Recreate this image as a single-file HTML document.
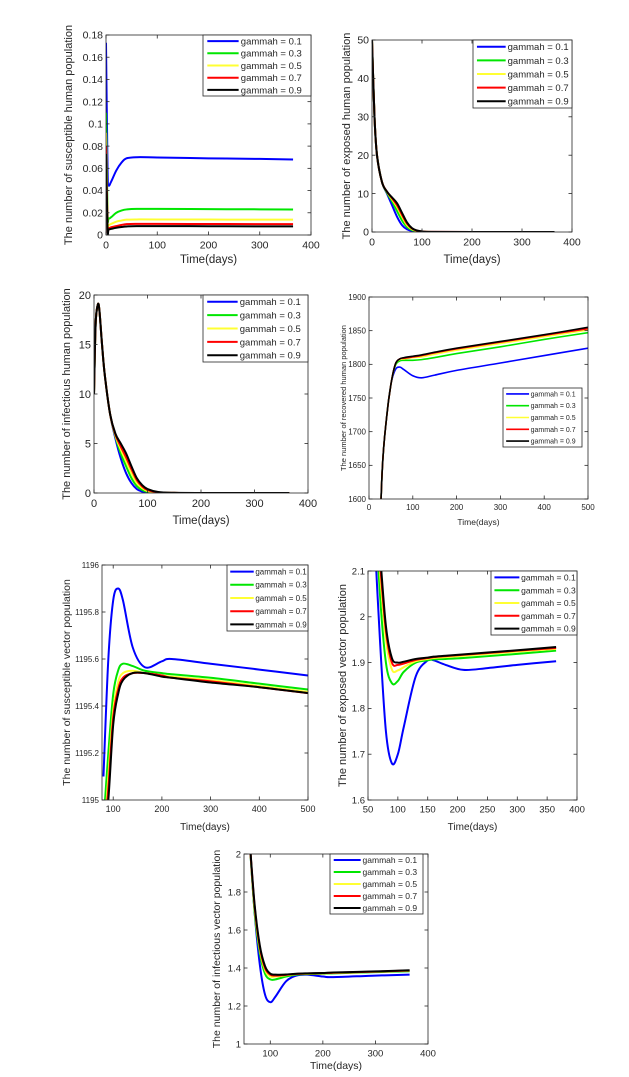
<!DOCTYPE html>
<html><head><meta charset="utf-8"><style>
html,body{margin:0;padding:0;background:#fff;}
svg{display:block;font-family:"Liberation Sans",Arial,sans-serif;}
</style></head><body>
<svg id="fig" width="629" height="1077" viewBox="0 0 629 1077" xmlns="http://www.w3.org/2000/svg"></svg>
<script>
const seriesNames = ["gammah = 0.1","gammah = 0.3","gammah = 0.5","gammah = 0.7","gammah = 0.9"];
const seriesColors = ["#0000ff","#00e600","#ffff33","#ff0000","#000000"];

// Panel 1: susceptible human
const p1T = [0,3,5,10,20,30,40,60,100,200,300,365];
const p1Blue = [0.173,0.06,0.045,0.048,0.058,0.065,0.069,0.070,0.0698,0.069,0.0685,0.068];
const p1Green = [0.11,0.02,0.015,0.016,0.020,0.022,0.023,0.0235,0.0235,0.0233,0.0231,0.023];
const p1Yellow = [0.092,0.012,0.009,0.010,0.012,0.013,0.0138,0.014,0.014,0.0139,0.0138,0.0138];
const p1Red = [0.08,0.008,0.006,0.007,0.008,0.009,0.0098,0.010,0.010,0.0099,0.0098,0.0098];
const p1Black = [0.073,0.006,0.005,0.0055,0.0065,0.0072,0.0077,0.008,0.008,0.0079,0.0078,0.0078];
const p1XTicks = [0,100,200,300,400];
const p1YTicks = [0,0.02,0.04,0.06,0.08,0.1,0.12,0.14,0.16,0.18];

// Panel 2: exposed human
const p2T = [0,5,10,20,30,40,50,60,70,80,90,100,120,200,365];
const p2Blue = [50,30,20,13,10,7,4,1.8,0.7,0.25,0.08,0.03,0,0,0];
const p2Green = [50,30,20,13,10.2,8,5.5,3,1.3,0.5,0.2,0.07,0.01,0,0];
const p2Yellow = [50,30,20,13,10.4,8.5,6.5,4,1.8,0.7,0.3,0.1,0.01,0,0];
const p2Red = [50,30,20,13,10.5,8.8,7,4.5,2.2,0.9,0.35,0.12,0.02,0,0];
const p2Black = [50,30,20,13,10.5,9,7.5,5,2.5,1,0.4,0.15,0.02,0,0];
const p2XTicks = [0,100,200,300,400];
const p2YTicks = [0,10,20,30,40,50];

// Panel 3: infectious human
const p3T = [0,3,7,10,15,20,30,40,50,60,70,80,90,100,120,150,200,365];
const p3Blue = [10,17,19,18.5,15,12,8,5.5,3.5,2,1,0.4,0.15,0.05,0.01,0,0,0];
const p3Green = [10,17,19,18.5,15,12,8,5.7,4,2.7,1.5,0.7,0.3,0.12,0.02,0,0,0];
const p3Yellow = [10,17,19,18.5,15,12,8,5.8,4.4,3.2,2,1,0.5,0.2,0.05,0.01,0,0];
const p3Red = [10,17,19,18.5,15,12,8,5.9,4.7,3.6,2.4,1.3,0.65,0.3,0.07,0.01,0,0];
const p3Black = [10,17,19,18.5,15,12,8,6,5,4,2.7,1.5,0.8,0.4,0.1,0.02,0,0];
const p3XTicks = [0,100,200,300,400];
const p3YTicks = [0,5,10,15,20];

// Panel 4: recovered human
const p4T = [20,30,40,50,60,70,80,100,120,150,200,300,400,500];
const p4Blue = [1450,1640,1720,1770,1792,1796,1792,1783,1780,1784,1791,1802,1813,1824];
const p4Green = [1450,1640,1720,1770,1798,1805,1806,1806,1807,1810,1816,1826,1837,1847];
const p4Yellow = [1450,1640,1720,1770,1800,1807,1808,1810,1811,1815,1821,1831,1841,1851];
const p4Red = [1450,1640,1720,1770,1800,1808,1809,1811,1813,1817,1823,1833,1843,1853];
const p4Black = [1450,1640,1720,1770,1800,1808,1810,1812,1814,1818,1824,1834,1844,1855];
const p4XTicks = [0,100,200,300,400,500];
const p4YTicks = [1600,1650,1700,1750,1800,1850,1900];

// Panel 5: susceptible vector
const p5T = [80,90,100,110,120,140,165,200,220,300,400,500];
const p5Blue = [1195.1,1195.6,1195.85,1195.9,1195.85,1195.65,1195.565,1195.59,1195.6,1195.58,1195.555,1195.53];
const p5Green = [1194.9,1195.2,1195.45,1195.55,1195.58,1195.57,1195.55,1195.54,1195.535,1195.52,1195.495,1195.47];
const p5Yellow = [1194.8,1195.1,1195.38,1195.5,1195.54,1195.55,1195.54,1195.53,1195.525,1195.51,1195.485,1195.46];
const p5Red = [1194.8,1195.05,1195.35,1195.47,1195.52,1195.54,1195.54,1195.53,1195.52,1195.505,1195.48,1195.455];
const p5Black = [1194.8,1195.0,1195.32,1195.45,1195.51,1195.54,1195.54,1195.525,1195.52,1195.5,1195.48,1195.455];
const p5XTicks = [100,200,300,400,500];
const p5YTicks = [1195,1195.2,1195.4,1195.6,1195.8,1196];

// Panel 6: exposed vector
const p6T = [60,70,80,90,100,110,130,150,160,180,210,250,300,365];
const p6Blue = [2.2,1.95,1.75,1.68,1.7,1.76,1.87,1.905,1.905,1.895,1.884,1.888,1.895,1.903];
const p6Green = [2.3,2.05,1.9,1.855,1.86,1.88,1.9,1.905,1.907,1.908,1.91,1.914,1.919,1.926];
const p6Yellow = [2.3,2.1,1.95,1.885,1.883,1.89,1.903,1.908,1.91,1.912,1.915,1.919,1.924,1.93];
const p6Red = [2.3,2.12,1.97,1.9,1.895,1.898,1.906,1.91,1.912,1.914,1.917,1.921,1.926,1.932];
const p6Black = [2.3,2.14,1.98,1.91,1.9,1.902,1.908,1.911,1.913,1.915,1.918,1.922,1.927,1.934];
const p6XTicks = [50,100,150,200,250,300,350,400];
const p6YTicks = [1.6,1.7,1.8,1.9,2,2.1];

// Panel 7: infectious vector
const p7T = [60,70,80,90,100,110,130,150,170,200,220,300,365];
const p7Blue = [2.1,1.7,1.42,1.26,1.22,1.25,1.33,1.36,1.365,1.355,1.352,1.36,1.365];
const p7Green = [2.1,1.7,1.48,1.37,1.34,1.34,1.355,1.365,1.368,1.37,1.372,1.378,1.383];
const p7Yellow = [2.1,1.72,1.5,1.39,1.355,1.355,1.362,1.368,1.37,1.372,1.374,1.38,1.386];
const p7Red = [2.1,1.73,1.51,1.4,1.365,1.36,1.364,1.369,1.371,1.373,1.375,1.381,1.387];
const p7Black = [2.1,1.74,1.52,1.41,1.37,1.365,1.366,1.37,1.372,1.374,1.376,1.382,1.388];
const p7XTicks = [100,200,300,400];
const p7YTicks = [1,1.2,1.4,1.6,1.8,2];

const NS = "http://www.w3.org/2000/svg";
const fig = document.getElementById('fig');
function mk(tag, attrs, parent){ const e=document.createElementNS(NS,tag); for(const k in attrs) e.setAttribute(k,attrs[k]); (parent||fig).appendChild(e); return e; }

function smoothPath(pts){
  let d = "M"+pts[0][0].toFixed(2)+","+pts[0][1].toFixed(2);
  for(let i=0;i<pts.length-1;i++){
    const p0=pts[Math.max(0,i-1)], p1=pts[i], p2=pts[i+1], p3=pts[Math.min(pts.length-1,i+2)];
    const c1x=p1[0]+(p2[0]-p0[0])/6, c1y=p1[1]+(p2[1]-p0[1])/6;
    const c2x=p2[0]-(p3[0]-p1[0])/6, c2y=p2[1]-(p3[1]-p1[1])/6;
    d+=" C"+c1x.toFixed(2)+","+c1y.toFixed(2)+" "+c2x.toFixed(2)+","+c2y.toFixed(2)+" "+p2[0].toFixed(2)+","+p2[1].toFixed(2);
  }
  return d;
}

let clipId=0;
function panel(cfg){
  const g = mk('g',{});
  
  
  const [L,T,R,B]=cfg.box;
  const sx=v=>L+(v-cfg.xlim[0])/(cfg.xlim[1]-cfg.xlim[0])*(R-L);
  const sy=v=>B-(v-cfg.ylim[0])/(cfg.ylim[1]-cfg.ylim[0])*(B-T);
  mk('rect',{x:L,y:T,width:R-L,height:B-T,fill:'#fff'},g);
  const cid='c'+(clipId++);
  const cp=mk('clipPath',{id:cid},g); mk('rect',{x:L,y:T,width:R-L,height:B-T},cp);
  const lines=mk('g',{'clip-path':'url(#'+cid+')'},g);
  cfg.series.forEach((arr,i)=>{
    const pts=cfg.t.map((tv,j)=>[sx(tv),sy(arr[j])]);
    const p=mk('path',{d:smoothPath(pts),fill:'none',stroke:seriesColors[i],'stroke-width':cfg.lw,'stroke-linejoin':'round'},lines);
    
    
  });
  const ax=mk('g',{},g);
  
  
  mk('rect',{x:L,y:T,width:R-L,height:B-T,fill:'none',stroke:'#262626','stroke-width':0.8},ax);
  const tl=3.5;
  cfg.xt.forEach(v=>{
    const x=sx(v);
    mk('line',{x1:x,y1:B,x2:x,y2:B-tl,stroke:'#262626','stroke-width':0.8},ax);
    mk('line',{x1:x,y1:T,x2:x,y2:T+tl,stroke:'#262626','stroke-width':0.8},ax);
    const t=mk('text',{x:x,y:B+cfg.fs+3,'font-size':cfg.fs,'text-anchor':'middle',fill:'#262626'},ax); t.textContent=String(v);
    
    
  });
  cfg.yt.forEach(v=>{
    const y=sy(v);
    mk('line',{x1:L,y1:y,x2:L+tl,y2:y,stroke:'#262626','stroke-width':0.8},ax);
    mk('line',{x1:R,y1:y,x2:R-tl,y2:y,stroke:'#262626','stroke-width':0.8},ax);
    const t=mk('text',{x:L-3,y:y+cfg.fs*0.35,'font-size':cfg.yfsT||cfg.fs,'text-anchor':'end',fill:'#262626'},ax); t.textContent=String(v);
    
    
  });
  const xl=mk('text',{x:(L+R)/2,y:cfg.xly,'font-size':cfg.lfs,'text-anchor':'middle',fill:'#262626'},g); xl.textContent='Time(days)';
  
  
  const yc=(T+B)/2;
  const yl=mk('text',{x:cfg.ylx,y:yc,'font-size':cfg.yfs,'text-anchor':'middle',fill:'#262626',transform:'rotate(-90 '+cfg.ylx+' '+yc+')','dominant-baseline':'middle'},g); yl.textContent=cfg.ylabel;
  
  
  const [lx1,ly1,lx2,ly2]=cfg.leg;
  const lg=mk('g',{},g);
  
  
  mk('rect',{x:lx1,y:ly1,width:lx2-lx1,height:ly2-ly1,fill:'#fff',stroke:'#262626','stroke-width':0.8},lg);
  const rh=(ly2-ly1)/5, w=lx2-lx1;
  seriesNames.forEach((n,i)=>{
    const cy=ly1+rh*(i+0.5);
    const e=mk('g',{},lg);
    
    
    mk('line',{x1:lx1+w*0.04,y1:cy,x2:lx1+w*0.33,y2:cy,stroke:seriesColors[i],'stroke-width':cfg.lw},e);
    const t=mk('text',{x:lx1+w*0.35,y:cy+cfg.legfs*0.36,'font-size':cfg.legfs,fill:'#262626'},e); t.textContent=n;
  });
}

panel({name:'susceptible-human-chart',box:[106,35,311,235],xlim:[0,400],ylim:[0,0.18],t:p1T,series:[p1Blue,p1Green,p1Yellow,p1Red,p1Black],xt:p1XTicks,yt:p1YTicks,fs:10.5,lfs:11.5,yfs:11,xly:263,ylx:69,ylabel:'The number of susceptible human population',leg:[203,35,311,96],legfs:9.5,lw:2});
panel({name:'exposed-human-chart',box:[372,40,572,232],xlim:[0,400],ylim:[0,50],t:p2T,series:[p2Blue,p2Green,p2Yellow,p2Red,p2Black],xt:p2XTicks,yt:p2YTicks,fs:10.5,lfs:11.5,yfs:11,xly:263,ylx:347,ylabel:'The number of exposed human population',leg:[473,40,572,108],legfs:9.5,lw:2});
panel({name:'infectious-human-chart',box:[94,295,308,493],xlim:[0,400],ylim:[0,20],t:p3T,series:[p3Blue,p3Green,p3Yellow,p3Red,p3Black],xt:p3XTicks,yt:p3YTicks,fs:11,lfs:11.5,yfs:11,xly:524,ylx:67,ylabel:'The number of infectious human population',leg:[203,295,308,362],legfs:9.5,lw:2});
panel({name:'recovered-human-chart',box:[369,297,588,499],xlim:[0,500],ylim:[1600,1900],t:p4T,series:[p4Blue,p4Green,p4Yellow,p4Red,p4Black],xt:p4XTicks,yt:p4YTicks,fs:8,lfs:8.5,yfs:7.5,xly:525,ylx:344,ylabel:'The number of recovered human population',leg:[503,388,582,447],legfs:7,lw:1.6});
panel({name:'susceptible-vector-chart',box:[102,565,308,800],xlim:[77,500],ylim:[1195,1196],t:p5T,series:[p5Blue,p5Green,p5Yellow,p5Red,p5Black],xt:p5XTicks,yt:p5YTicks,fs:9,yfsT:8,lfs:10,yfs:10.5,xly:830,ylx:67,ylabel:'The number of susceptible vector population',leg:[227,565,308,631],legfs:8,lw:2});
panel({name:'exposed-vector-chart',box:[368,571,577,800],xlim:[50,400],ylim:[1.6,2.1],t:p6T,series:[p6Blue,p6Green,p6Yellow,p6Red,p6Black],xt:p6XTicks,yt:p6YTicks,fs:9.5,lfs:10,yfs:11,xly:830,ylx:343,ylabel:'The number of exposed vector population',leg:[491,571,577,635],legfs:8.5,lw:2});
panel({name:'infectious-vector-chart',box:[244,854,428,1044],xlim:[50,400],ylim:[1,2],t:p7T,series:[p7Blue,p7Green,p7Yellow,p7Red,p7Black],xt:p7XTicks,yt:p7YTicks,fs:9.5,lfs:10.5,yfs:10.5,xly:1069,ylx:217,ylabel:'The number of infectious vector population',leg:[330,854,423,914],legfs:8.5,lw:2});
</script>
</body></html>
